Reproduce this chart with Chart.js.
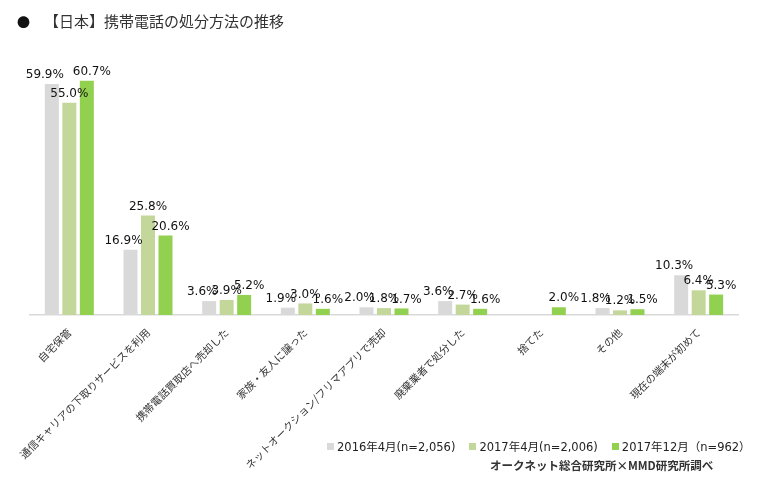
<!DOCTYPE html>
<html lang="ja">
<head>
<meta charset="utf-8">
<title>携帯電話の処分方法の推移</title>
<script src="https://cdn.jsdelivr.net/npm/chart.js@4.4.1/dist/chart.umd.min.js"></script>
<style>
  body { margin: 0; background: #fff; }
  #wrap { position: relative; width: 761px; height: 481px; font-family: "DejaVu Sans", "Noto Sans CJK JP", sans-serif; color: #333; }
  #title { position: absolute; left: 17px; top: 10px; font-size: 15px; font-family: "Noto Sans CJK JP", sans-serif; color: #333; white-space: nowrap; }
  #title .dot { font-size: 13px; margin-right: 14px; color: #111; }
  #legend { position: absolute; left: 327px; top: 438px; font-size: 11.5px; white-space: nowrap; color: #222; }
  #legend span.item { margin-right: 14px; }
  #legend i { display: inline-block; width: 7px; height: 7px; margin-right: 3px; vertical-align: 1px; }
  #source { position: absolute; left: 490px; top: 457px; font-size: 11.5px; font-weight: bold; font-family: "Noto Sans CJK JP", sans-serif; color: #333; white-space: nowrap; }
</style>
</head>
<body>
<div id="wrap">
  <canvas id="chart" width="761" height="481"></canvas>
  <div id="title"><span class="dot">●</span>【日本】携帯電話の処分方法の推移</div>
  <div id="legend"></div>
  <div id="source">オークネット総合研究所×MMD研究所調べ</div>
</div>
<script>
// categories and series (%)
const categories = [
    '自宅保管',
    '通信キャリアの下取りサービスを利用',
    '携帯電話買取店へ売却した',
    '家族・友人に譲った',
    'ネットオークション/フリマアプリで売却',
    '廃棄業者で処分した',
    '捨てた',
    'その他',
    '現在の端末が初めて'
];
const seriesNames = ['2016年4月(n=2,056)', '2017年4月(n=2,006)', '2017年12月（n=962）'];
const values2016Apr = [59.9, 16.9, 3.6, 1.9, 2.0, 3.6, null, 1.8, 10.3];
const values2017Apr = [55.0, 25.8, 3.9, 3.0, 1.8, 2.7, null, 1.2, 6.4];
const values2017Dec = [60.7, 20.6, 5.2, 1.6, 1.7, 1.6, 2.0, 1.5, 5.3];
const seriesColors = ['#d9d9d9', '#c4d79b', '#92d050'];
const yMax = 70;

// value labels above each bar
const barLabels = {
    id: 'barLabels',
    afterDatasetsDraw(chart) {
        const ctx = chart.ctx;
        const shift = [-7, 0, 5];
        ctx.save();
        ctx.font = '12px "DejaVu Sans", sans-serif';
        ctx.fillStyle = '#111';
        ctx.textAlign = 'center';
        ctx.textBaseline = 'bottom';
        chart.data.datasets.forEach((ds, i) => {
            const meta = chart.getDatasetMeta(i);
            meta.data.forEach((bar, j) => {
                const v = ds.data[j];
                if (v === null) return;
                ctx.fillText(v.toFixed(1) + '%', bar.x + shift[i], bar.y - 3);
            });
        });
        ctx.restore();
    }
};

const datasets = [values2016Apr, values2017Apr, values2017Dec].map((vals, i) => ({
    label: seriesNames[i],
    data: vals,
    backgroundColor: seriesColors[i],
    barPercentage: 0.8,
    categoryPercentage: 0.667
}));

new Chart(document.getElementById('chart'), {
    type: 'bar',
    data: { labels: categories, datasets: datasets },
    options: {
        responsive: false,
        animation: false,
        devicePixelRatio: 1,
        layout: { padding: { left: 30, right: 23, top: 45, bottom: 0 } },
        plugins: {
            legend: { display: false },
            tooltip: { enabled: false }
        },
        scales: {
            x: {
                grid: { display: true, drawOnChartArea: false, drawTicks: false, color: 'rgba(0,0,0,0)' },
                border: { display: true, color: '#d9d9d9', width: 1.5 },
                ticks: {
                    minRotation: 45,
                    maxRotation: 45,
                    autoSkip: false,
                    padding: 11,
                    color: '#333',
                    font: { size: 10.5, family: '"Noto Sans CJK JP", sans-serif' }
                },
                afterFit(scale) { scale.height = 166; }
            },
            y: {
                display: false,
                min: 0,
                max: yMax
            }
        }
    },
    plugins: [barLabels]
});

// legend
const legendEl = document.getElementById('legend');
seriesNames.forEach((name, i) => {
    const item = document.createElement('span');
    item.className = 'item';
    item.innerHTML = '<i style="background:' + seriesColors[i] + '"></i>' + name;
    legendEl.appendChild(item);
});
</script>
</body>
</html>
